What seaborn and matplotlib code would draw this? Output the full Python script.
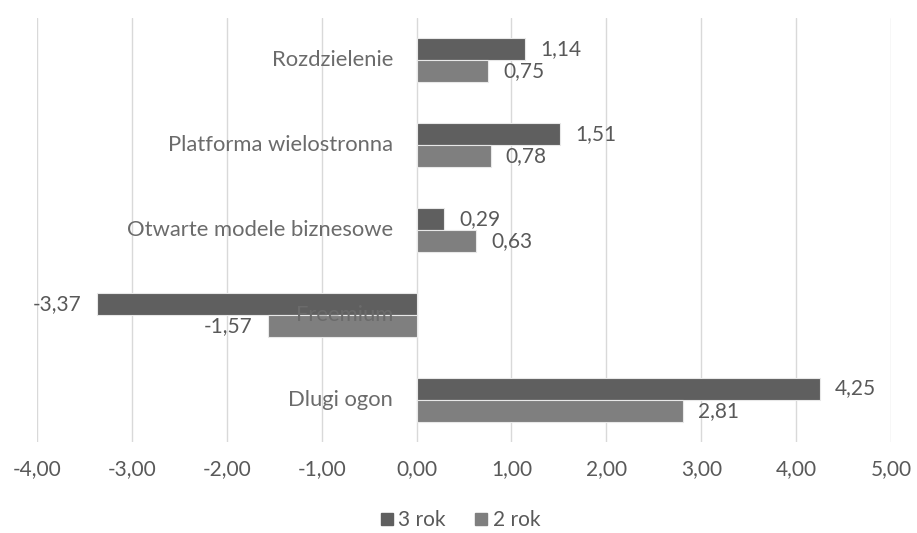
import matplotlib
matplotlib.use("Agg")
import matplotlib.pyplot as plt
import seaborn as sns
import pandas as pd
from matplotlib.lines import Line2D

categories = ["Rozdzielenie", "Platforma wielostronna", "Otwarte modele biznesowe", "Freemium", "Dlugi ogon"]
series_names = ["3 rok", "2 rok"]
values_3 = [1.14, 1.51, 0.29, -3.37, 4.25]
values_2 = [0.75, 0.78, 0.63, -1.57, 2.81]
xticks = [-4, -3, -2, -1, 0, 1, 2, 3, 4, 5]

colors = {"3 rok": "#5f5f5f", "2 rok": "#7f7f7f"}
text_color = "#595959"
fs = 15

df = pd.DataFrame({
    "category": categories * 2,
    "series": [series_names[0]] * len(categories) + [series_names[1]] * len(categories),
    "value": values_3 + values_2,
})

sns.set_theme(style="white")
plt.rcParams["font.family"] = ["Lato", "DejaVu Sans"]

fig = plt.figure(figsize=(9.17, 5.33), dpi=100)
ax = fig.add_axes([37 / 917, 1 - 442 / 533, (891 - 37) / 917, (442 - 18) / 533])

sns.barplot(data=df, y="category", x="value", hue="series", order=categories,
            hue_order=series_names, palette=colors, orient="h", width=0.52,
            edgecolor="#e8e8e8", linewidth=0.8, legend=False, ax=ax, zorder=3)

ax.set_xlim(-4, 5)
ax.set_ylim(len(categories) - 0.5, -0.5)
ax.set_xticks(xticks)
ax.set_xticklabels([f"{v:.2f}".replace(".", ",") for v in xticks], color=text_color, fontsize=fs)
ax.tick_params(axis="x", length=0, pad=12)
ax.set_yticks([])
ax.set_xlabel("")
ax.set_ylabel("")
for s in ax.spines.values():
    s.set_visible(False)
ax.grid(axis="x", color="#d9d9d9", linewidth=1, zorder=0)
ax.set_axisbelow(True)

# data labels
for container, name in zip(ax.containers, series_names):
    for bar in container:
        w = bar.get_width()
        yc = bar.get_y() + bar.get_height() / 2
        label = f"{w:.2f}".replace(".", ",")
        if w >= 0:
            ax.annotate(label, (w, yc), xytext=(11, 0), textcoords="offset points",
                        ha="left", va="center", color=text_color, fontsize=fs, zorder=5)
        else:
            ax.annotate(label, (w, yc), xytext=(-11, 0), textcoords="offset points",
                        ha="right", va="center", color=text_color, fontsize=fs, zorder=5)

# category labels next to the zero axis
for i, cat in enumerate(categories):
    ax.annotate(cat, (0, i), xytext=(-17, 0), textcoords="offset points",
                ha="right", va="center", color="#6b6b6b", fontsize=15.8, zorder=6)

handles = [Line2D([0], [0], marker="s", linestyle="", markersize=8,
                  markerfacecolor=colors[n], markeredgecolor=colors[n]) for n in series_names]
fig.legend(handles, series_names, loc="center", bbox_to_anchor=(0.5, 1 - 520 / 533),
           ncol=2, frameon=False, fontsize=fs, labelcolor=text_color,
           handletextpad=0.05, columnspacing=1.2, handlelength=1)

fig.savefig("out.png", dpi=100)
